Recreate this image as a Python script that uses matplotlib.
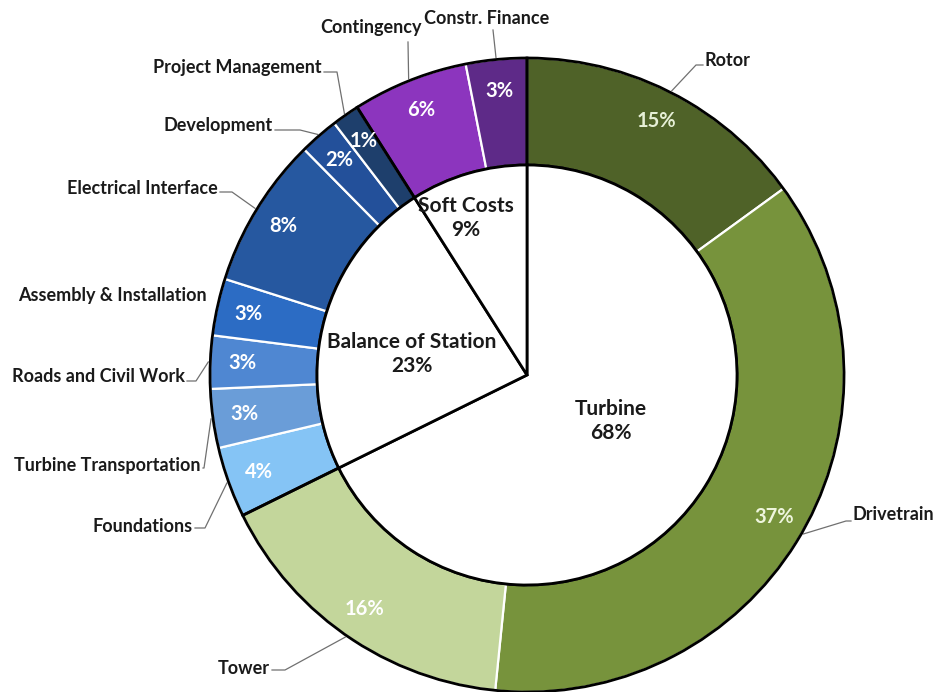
import numpy as np
import matplotlib
matplotlib.use("Agg")
import matplotlib.pyplot as plt

plt.rcParams["font.family"] = ["Lato", "DejaVu Sans"]

# cost components, clockwise from 12 o'clock (percent of total)
components = ["Rotor", "Drivetrain", "Tower", "Foundations",
              "Turbine Transportation", "Roads and Civil Work",
              "Assembly & Installation", "Electrical Interface",
              "Development", "Project Management", "Contingency",
              "Constr. Finance"]
shares = [15.0, 36.6, 16.1, 3.6, 3.0, 2.7, 2.9, 7.7, 2.0, 1.4, 5.9, 3.1]
group_of = [0, 0, 0, 1, 1, 1, 1, 1, 1, 1, 2, 2]
groups = ["Turbine", "Balance of Station", "Soft Costs"]

colors = ["#4f6228", "#77933c", "#c3d69b", "#85c4f5", "#6a9dd8",
          "#4f87d2", "#2c6cc4", "#2658a0", "#23509a", "#1e3f6c",
          "#8c35be", "#5e2a88"]
pct_colors = ["#e6efd6", "#eef5dc", "white"] + ["white"] * 9

group_totals = [sum(s for s, g in zip(shares, group_of) if g == k)
                for k in range(len(groups))]

W, H = 939, 692
fig = plt.figure(figsize=(W / 100, H / 100), dpi=100)
ax = fig.add_axes([0, 0, 1, 1])

cx, cy = 527, H - 375
R, r_in = 317, 210

# outer ring of components
wedges, _, autotexts = ax.pie(
    shares, radius=R, center=(cx, cy), startangle=90, counterclock=False,
    colors=colors, autopct="%1.0f%%", pctdistance=0.9,
    wedgeprops=dict(width=R - r_in, edgecolor="white", linewidth=1.6),
    textprops=dict(fontsize=14.5, fontweight="bold", color="white"))
for t, c in zip(autotexts, pct_colors):
    t.set_color(c)

# group outlines over the ring
ax.pie(group_totals, radius=R, center=(cx, cy), startangle=90,
       counterclock=False, colors=["none"] * 3,
       wedgeprops=dict(width=R - r_in, edgecolor="black", linewidth=2.0))

# inner pie of groups
ax.pie(group_totals, radius=r_in, center=(cx, cy), startangle=90,
       counterclock=False, colors=["white"] * 3,
       wedgeprops=dict(edgecolor="black", linewidth=2.0))

# pie() resets the limits, so set the pixel frame afterwards
ax.set_xlim(0, W)
ax.set_ylim(0, H)
ax.set_aspect("equal")
ax.axis("off")

group_text = [(611, 421), (412, 354), (466, 218)]
for name, tot, (px, py) in zip(groups, group_totals, group_text):
    ax.text(px, H - py, f"{name}\n{tot:.0f}%", ha="center", va="center",
            fontsize=15, fontweight="bold", color="#1a1a1a",
            linespacing=1.3)


def ring_point(idx, rad):
    start = sum(shares[:idx])
    mid = (start + shares[idx] / 2) / sum(shares) * 2 * np.pi
    return cx + rad * np.sin(mid), cy + rad * np.cos(mid)


# category labels: text x, y, alignment, elbow point (pixels)
label_pos = {
    "Rotor": (705, 60, "left", (696, 65)),
    "Drivetrain": (853, 515, "left", (846, 521)),
    "Tower": (270, 668, "right", (285, 670)),
    "Foundations": (193, 526, "right", (205, 528)),
    "Turbine Transportation": (201, 465, "right", (204, 468)),
    "Roads and Civil Work": (185, 377, "right", (196, 381)),
    "Assembly & Installation": (207, 295, "right", None),
    "Electrical Interface": (218, 188, "right", (232, 192)),
    "Development": (273, 125, "right", (300, 130)),
    "Project Management": (322, 68, "right", (337, 72)),
    "Contingency": (371, 28, "center", (408, 42)),
    "Constr. Finance": (487, 18, "center", (493, 30)),
}

for i, name in enumerate(components):
    tx, ty, ha, elbow = label_pos[name]
    ax.text(tx, H - ty, name, ha=ha, va="center", fontsize=13,
            fontweight="bold", color="#1a1a1a")
    if elbow is None:
        continue
    ex, ey = elbow
    px, py = ring_point(i, R + 2)
    if ha == "left":
        xs, ys = [tx - 2, ex, px], [H - ey, H - ey, py]
    elif ha == "right":
        xs, ys = [tx + 2, ex, px], [H - ey, H - ey, py]
    else:
        xs, ys = [ex, px], [H - ey, py]
    ax.plot(xs, ys, color="#707070", lw=0.9, zorder=0)

fig.savefig("out.png", dpi=100, facecolor="white")
